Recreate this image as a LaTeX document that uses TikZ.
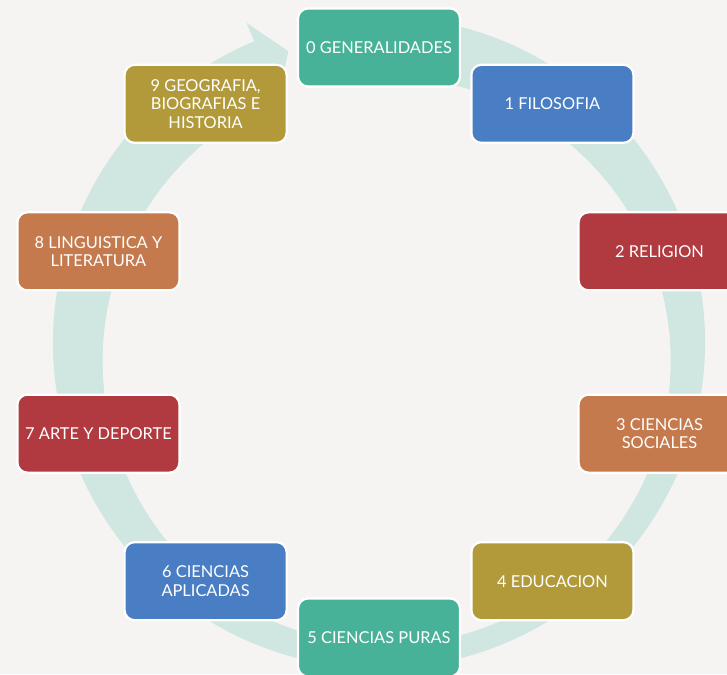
\documentclass[tikz,border=0pt]{standalone}
\usepackage{fontspec}
\setsansfont{Lato}
\definecolor{fondo}{RGB}{245,244,242}
\definecolor{anillo}{RGB}{208,230,224}
\definecolor{verde}{RGB}{72,178,152}
\definecolor{azul}{RGB}{74,126,196}
\definecolor{rojo}{RGB}{177,58,64}
\definecolor{naranja}{RGB}{196,122,76}
\definecolor{oro}{RGB}{178,154,58}
\tikzset{
  every picture/.style={font={\sffamily\normalsize}, >=stealth}}

\begin{document}
\begin{tikzpicture}[x=1pt, y=1pt,
    clase/.style={
      draw=white, line width=2.2pt,
      rounded corners=10pt,
      text=white, align=center,
      font=\sffamily\fontsize{16.4}{18.3}\selectfont,
      minimum width=162pt,
      minimum height=78pt}]

    \clip (0,0) rectangle (727,674);
    \fill[fondo] (0,0) rectangle (727,674);

    % anillo con flecha
    \begin{scope}[shift={(379,331.5)}]
      \fill[anillo] (82:326) arc[start angle=82, end angle=-247.5, radius=326]
        -- (-247.5:346) -- (-252.7:305) -- (-247.5:264)
        arc[start angle=-247.5, end angle=82, radius=284] -- cycle;
    \end{scope}

    \begin{scope}[shift={(379,331.5)}]
      \node[clase, fill=verde] (g0) at (90:295) {0 GENERALIDADES};
      \node[clase, fill=azul] (g1) at (54:295) {1 FILOSOFIA};
      \node[clase, fill=rojo] (g2) at (18:295) {2 RELIGION};
      \node[clase, fill=naranja] (g3) at (-18:295) {3 CIENCIAS\\SOCIALES};
      \node[clase, fill=oro] (g4) at (-54:295) {4 EDUCACION};
      \node[clase, fill=verde] (g5) at (-90:295) {5 CIENCIAS PURAS};
      \node[clase, fill=azul] (g6) at (-126:295) {6 CIENCIAS\\APLICADAS};
      \node[clase, fill=rojo] (g7) at (-162:295) {7 ARTE Y DEPORTE};
      \node[clase, fill=naranja] (g8) at (162:295) {8 LINGUISTICA Y\\LITERATURA};
      \node[clase, fill=oro] (g9) at (126:295) {9 GEOGRAFIA,\\BIOGRAFIAS E\\HISTORIA};
    \end{scope}
  \end{tikzpicture}
\end{document}
